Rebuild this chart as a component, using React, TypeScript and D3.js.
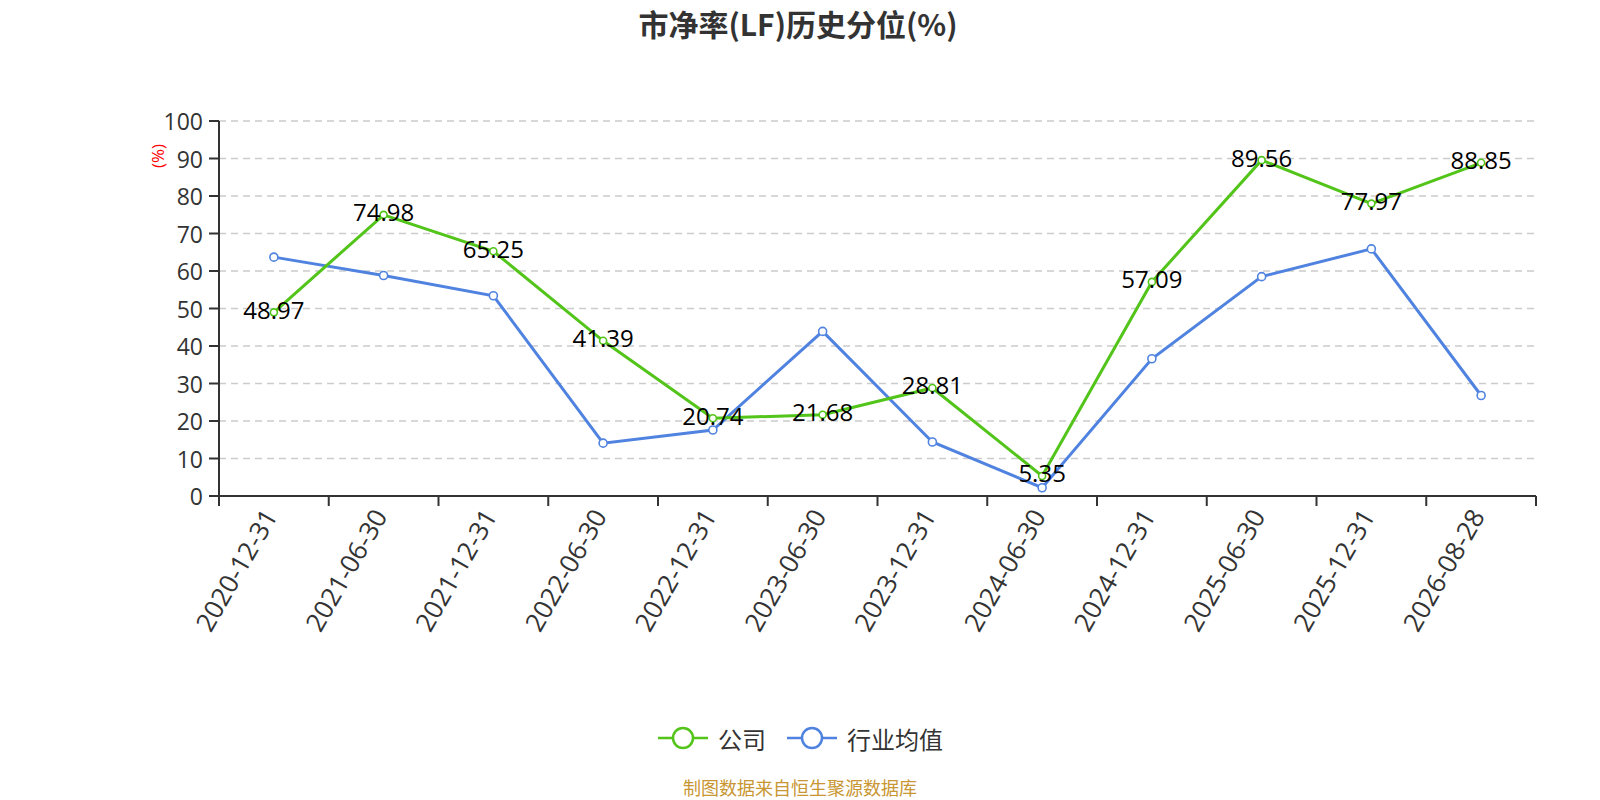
import React from "react";
import * as d3 from "d3";

const categories = ["2020-12-31","2021-06-30","2021-12-31","2022-06-30","2022-12-31","2023-06-30","2023-12-31","2024-06-30","2024-12-31","2025-06-30","2025-12-31","2026-08-28"];
const companyValues = [48.97,74.98,65.25,41.39,20.74,21.68,28.81,5.35,57.09,89.56,77.97,88.85];
const industryValues = [63.7,58.8,53.4,14.1,17.6,43.9,14.4,2.2,36.6,58.5,65.9,26.8];
const yTicks = [0,10,20,30,40,50,60,70,80,90,100];
const seriesNames = ["公司","行业均值"];

const W = 1600, H = 800;
const left = 219, right = 1536, top = 121, bottom = 496;
const GREEN = "#52c41a", BLUE = "#5083e0";
const FONT = "'Open Sans', 'Noto Sans CJK SC', sans-serif";
const CJK = "'Noto Sans CJK SC', sans-serif";

export default function App() {
  const x = d3.scaleBand<string>().domain(categories).range([left, right]);
  const y = d3.scaleLinear().domain([0, 100]).range([bottom, top]);
  const cx = (c: string) => (x(c) as number) + x.bandwidth() / 2;
  const line = d3.line<number>().x((_, i) => cx(categories[i])).y(v => y(v));
  const boundaries = categories.map(c => x(c) as number).concat([right]);

  return (
    <svg width={W} height={H} style={{ position: "absolute", left: 0, top: 0, fontFamily: FONT }}>
      <rect width={W} height={H} fill="#fff" />
      <text x={798} y={23} textAnchor="middle" dominantBaseline="central" fontSize={30} fontWeight="bold" fill="#333" fontFamily={CJK}>市净率(LF)历史分位(%)</text>
      {/* grid */}
      {yTicks.filter(t => t > 0).map(t => (
        <line key={t} x1={left} x2={right} y1={y(t)} y2={y(t)} stroke="#ccc" strokeWidth={1.5} strokeDasharray="7,5" />
      ))}
      {/* y axis */}
      <line x1={left} x2={left} y1={top} y2={bottom} stroke="#333" strokeWidth={2} />
      {yTicks.map(t => (
        <g key={t}>
          <line x1={left - 10} x2={left} y1={y(t)} y2={y(t)} stroke="#333" strokeWidth={2} />
          <text x={left - 16} y={y(t)} textAnchor="end" dominantBaseline="central" fontSize={23} fill="#333">{t}</text>
        </g>
      ))}
      <text transform={`translate(157,156) rotate(-90)`} textAnchor="middle" dominantBaseline="central" fontSize={17} fill="red">(%)</text>
      {/* x axis */}
      <line x1={left} x2={right} y1={bottom} y2={bottom} stroke="#333" strokeWidth={2} />
      {boundaries.map((b, i) => (
        <line key={i} x1={b} x2={b} y1={bottom} y2={bottom + 10} stroke="#333" strokeWidth={2} />
      ))}
      {categories.map(c => (
        <text key={c} transform={`translate(${cx(c) - 4},${bottom + 15}) rotate(-60)`} textAnchor="end" dominantBaseline="central" fontSize={26} fill="#333">{c}</text>
      ))}
      {/* lines */}
      <path d={line(industryValues) || ""} fill="none" stroke={BLUE} strokeWidth={3} />
      <path d={line(companyValues) || ""} fill="none" stroke={GREEN} strokeWidth={3} />
      {industryValues.map((v, i) => (
        <circle key={i} cx={cx(categories[i])} cy={y(v)} r={4} fill="#fff" stroke={BLUE} strokeWidth={1.6} />
      ))}
      {companyValues.map((v, i) => (
        <circle key={i} cx={cx(categories[i])} cy={y(v)} r={3.5} fill="#fff" stroke={GREEN} strokeWidth={1.6} />
      ))}
      {companyValues.map((v, i) => (
        <text key={i} x={cx(categories[i])} y={y(v) - 3} textAnchor="middle" dominantBaseline="central" fontSize={24} fill="#000">{v.toFixed(2)}</text>
      ))}
      {/* legend */}
      <line x1={658} x2={708} y1={738} y2={738} stroke={GREEN} strokeWidth={2.5} />
      <circle cx={683} cy={738} r={10} fill="#fff" stroke={GREEN} strokeWidth={2.5} />
      <text x={718} y={738} dominantBaseline="central" fontSize={24} fill="#333" fontFamily={CJK}>{seriesNames[0]}</text>
      <line x1={787} x2={837} y1={738} y2={738} stroke={BLUE} strokeWidth={2.5} />
      <circle cx={812} cy={738} r={10} fill="#fff" stroke={BLUE} strokeWidth={2.5} />
      <text x={847} y={738} dominantBaseline="central" fontSize={24} fill="#333" fontFamily={CJK}>{seriesNames[1]}</text>
      <text x={800} y={787} textAnchor="middle" dominantBaseline="central" fontSize={18} fill="#c89632" fontFamily={CJK}>制图数据来自恒生聚源数据库</text>
    </svg>
  );
}
